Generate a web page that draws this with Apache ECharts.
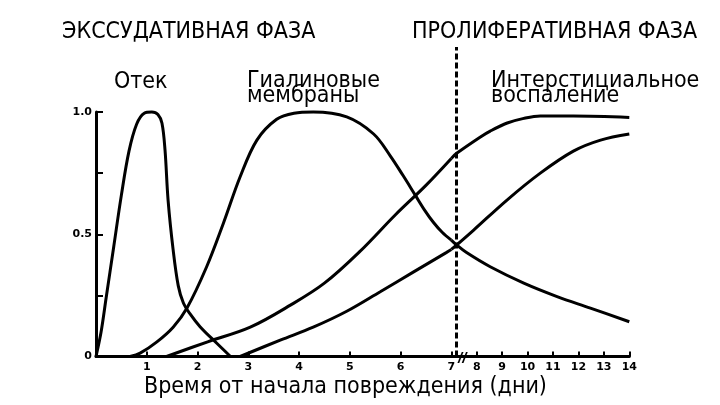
<!DOCTYPE html>
<html>
<head>
<meta charset="utf-8">
<script src="https://cdn.jsdelivr.net/npm/echarts@6/dist/echarts.min.js"></script>
<style>
html, body { margin: 0; padding: 0; background: #fff; }
#chart { width: 720px; height: 405px; }
</style>
</head>
<body>
<div id="chart"></div>
<script>
// [day, share]
var edema = [[0,0],[0.1,0.1],[0.2,0.24],[0.35,0.45],[0.5,0.66],[0.65,0.84],[0.8,0.95],[0.95,0.995],[1.1,1.0],
	[1.22,0.99],[1.3,0.954],[1.36,0.844],[1.42,0.64],[1.52,0.436],[1.62,0.29],[1.72,0.22],[1.85,0.175],[2.05,0.122],
	[2.38,0.054],[2.65,0]];
var hyaline = [[0.67,0],[0.87,0.014],[1.2,0.06],[1.52,0.12],[1.79,0.197],[2.18,0.367],[2.51,0.545],[2.84,0.735],
	[3.17,0.885],[3.56,0.97],[3.9,0.995],[4.28,1.0],[4.94,0.98],[5.47,0.91],[5.8,0.82],[6.05,0.74],[6.29,0.66],
	[6.47,0.6],[6.65,0.548],[6.82,0.508],[7,0.476],
	[7.21,0.456],[7.6,0.425],[8.53,0.367],[9.85,0.30],[11.16,0.245],[12.47,0.198],[14,0.142]];
var interUpper = [[1.39,0],[2.2,0.06],[3.04,0.12],[3.83,0.21],[4.5,0.30],[5.2,0.43],[5.9,0.58],[6.5,0.70],[7,0.81],
	[7.21,0.831],[8.13,0.897],[8.53,0.922],[9.2,0.955],[9.85,0.974],[10.5,0.984],[11.8,0.984],[14,0.978]];
var interLower = [[2.84,0],[3.63,0.067],[4.28,0.12],[4.94,0.185],[5.6,0.265],[6.25,0.345],[6.9,0.425],[7,0.438],
	[7.21,0.456],[7.88,0.517],[9.19,0.64],[10.5,0.75],[11.8,0.84],[12.87,0.885],[14,0.91]];

var breakDay = 7;      // axis scale halves after this day
var phaseDay = 7.21;   // dashed line between phases
var yLabels = {'0': '0', '0.5': '0.5', '1': '1.0'};

var phaseTitles = ['ЭКССУДАТИВНАЯ ФАЗА', 'ПРОЛИФЕРАТИВНАЯ ФАЗА'];
var curveNames = ['Отек', 'Гиалиновые', 'мембраны', 'Интерстициальное', 'воспаление'];
var xName = 'Время от начала повреждения (дни)';

var myChart = echarts.init(document.getElementById('chart'));

function part(pts, lo, hi) {
	return pts.filter(function (p) { return p[0] >= lo && p[0] <= hi; });
}

var lineStyle = {color: '#000', width: 3};
var tickFont = {color: '#000', fontSize: 11, fontWeight: 'bold', fontFamily: 'DejaVu Sans'};
var textFont = '23px "DejaVu Sans Condensed", "DejaVu Sans"';

var series = [];
[edema, hyaline, interUpper, interLower].forEach(function (pts) {
	var left = part(pts, 0, breakDay);
	var right = part(pts, breakDay, 14);
	if (left.length > 1) series.push({type: 'line', xAxisIndex: 0, yAxisIndex: 0, data: left,
		smooth: 0.35, showSymbol: false, lineStyle: lineStyle, clip: false});
	if (right.length > 1) series.push({type: 'line', xAxisIndex: 1, yAxisIndex: 1, data: right,
		smooth: 0.35, showSymbol: false, lineStyle: lineStyle, clip: false});
});
series.push({
	type: 'line', xAxisIndex: 1, yAxisIndex: 1, data: [],
	markLine: {
		silent: true, symbol: 'none', label: {show: false},
		lineStyle: {color: '#000', width: 3, type: [6, 3]},
		data: [{xAxis: phaseDay}]
	}
});

function txt(s, x, y) {
	return {type: 'text', x: x, y: y, style: {text: s, font: textFont, fill: '#000', verticalAlign: 'bottom'}};
}

option = {
	animation: false,
	backgroundColor: '#fff',
	grid: [
		{left: 96, top: 112, width: 355.3, height: 244.5},
		{left: 451.3, top: 47, width: 178, height: 309.5}
	],
	xAxis: [
		{
			type: 'value', gridIndex: 0, min: 0, max: 7, interval: 1,
			axisLine: {lineStyle: {color: '#000', width: 3}},
			axisTick: {inside: true, length: 5, lineStyle: {color: '#000', width: 2}},
			axisLabel: Object.assign({margin: 5, formatter: function (v) { return v === 0 ? '' : String(v); }}, tickFont),
			splitLine: {show: false}
		},
		{
			type: 'value', gridIndex: 1, min: 7, max: 14, interval: 1,
			axisLine: {lineStyle: {color: '#000', width: 3}},
			axisTick: {inside: true, length: 5, lineStyle: {color: '#000', width: 2}},
			axisLabel: Object.assign({margin: 5, formatter: function (v) { return v === 7 ? '' : String(v); }}, tickFont),
			splitLine: {show: false}
		}
	],
	yAxis: [
		{
			type: 'value', gridIndex: 0, min: 0, max: 1, interval: 0.25,
			axisLine: {show: true, lineStyle: {color: '#000', width: 3}},
			axisTick: {show: true, inside: true, length: 7, lineStyle: {color: '#000', width: 2}},
			axisLabel: Object.assign({margin: 4, formatter: function (v) { return yLabels[String(v)] || ''; }}, tickFont),
			splitLine: {show: false}
		},
		{
			type: 'value', gridIndex: 1, min: 0, max: 309.5 / 244.5, show: false
		}
	],
	graphic: [
		txt(phaseTitles[0], 62, 44),
		txt(phaseTitles[1], 412, 44),
		txt(curveNames[0], 114, 94),
		txt(curveNames[1], 247, 93),
		txt(curveNames[2], 247, 108),
		txt(curveNames[3], 491, 93),
		txt(curveNames[4], 491, 108),
		txt(xName, 144, 399),
		{type: 'text', x: 458, y: 366, style: {text: '//', font: 'italic bold 15px "Liberation Sans"', fill: '#000', verticalAlign: 'bottom'}}
	],
	series: series
};
myChart.setOption(option);
</script>
</body>
</html>
